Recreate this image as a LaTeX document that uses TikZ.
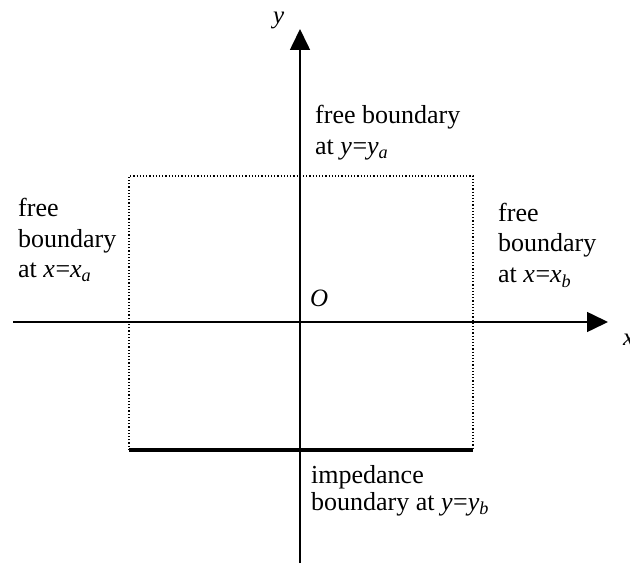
\documentclass[tikz,border=0pt]{standalone}
\usepackage{fontspec}
\setmainfont{Liberation Serif}
\usetikzlibrary{arrows.meta}
\tikzset{
  axis/.style={line width=1.6pt,-{Triangle[length=21pt,width=20pt]}},
  lbl/.style={font=\fontsize{26}{31}\selectfont,align=left,inner sep=0pt},
  mathlbl/.style={font=\fontsize{25}{25}\selectfont\itshape,inner sep=0pt},
  freeline/.style={line width=1.2pt,dotted},
  impline/.style={line width=4.5pt}
}
\newcommand{\mvar}[2]{\textit{#1}\textsubscript{\textit{#2}}}
\begin{document}
\begin{tikzpicture}[x=1pt,y=-1pt]
\useasboundingbox (0,0) rectangle (630,567);
% box corners
\coordinate (tl) at (129,176);
\coordinate (tr) at (473,176);
\coordinate (bl) at (129,450);
\coordinate (br) at (473,450);
\draw[freeline] (bl) -- (tl) -- (tr) -- (br);
\draw[impline] (bl) -- (br);
% axes
\coordinate (xs) at (13,322);
\coordinate (xe) at (608,322);
\coordinate (ys) at (300,563);
\coordinate (ye) at (300,29);
\draw[axis] (xs) -- (xe);
\draw[axis] (ys) -- (ye);
\node[mathlbl,anchor=base west] (ylab) at (273,24) {y};
\node[mathlbl,anchor=base west] (xlab) at (623,345) {x};
\node[mathlbl,anchor=base west] (olab) at (310,306) {O};
% labels (base anchor = last line's baseline)
\node[lbl,anchor=base west] (top) at (315,155) {free boundary\\at \mvar{y}{}=\mvar{y}{a}};
\node[lbl,anchor=base west] (left) at (18,278) {free\\boundary\\at \mvar{x}{}=\mvar{x}{a}};
\node[lbl,anchor=base west] (right) at (498,283) {free\\boundary\\at \mvar{x}{}=\mvar{x}{b}};
\node[lbl,anchor=base west,font=\fontsize{26}{27}\selectfont] (bot) at (311,510) {impedance\\boundary at \mvar{y}{}=\mvar{y}{b}};
\end{tikzpicture}
\end{document}
